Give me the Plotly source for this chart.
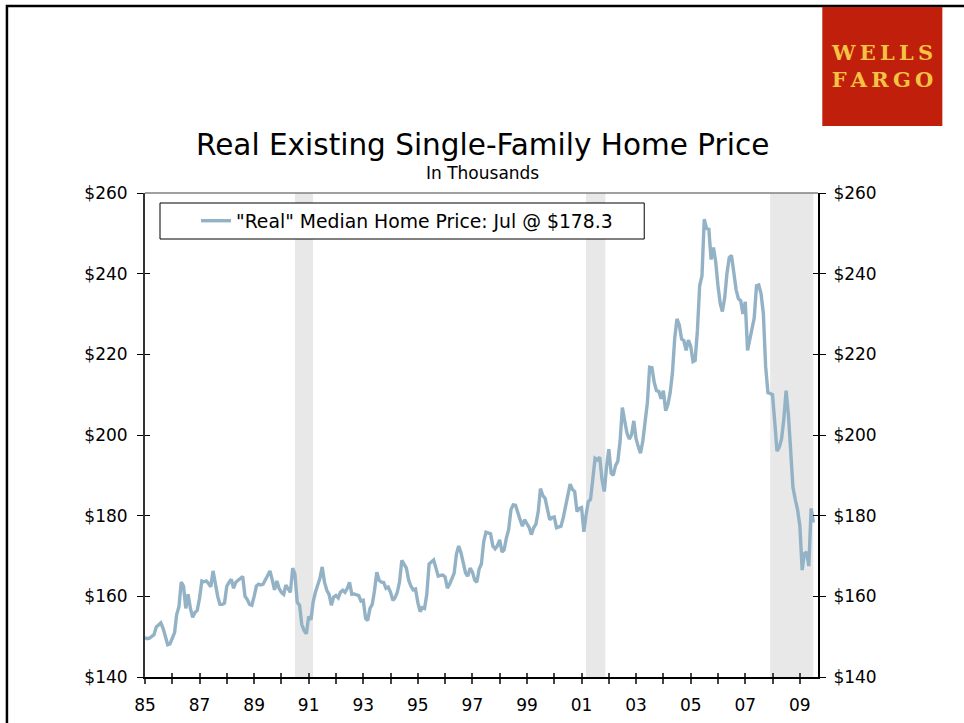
import pandas as pd
import plotly.graph_objects as go

# monthly "real" median existing single-family home price, $ thousands, Jan 1985 - Jul 2009
price_1985_1990 = [
    149.8, 149.5, 149.6, 150.0, 150.5, 152.4, 153.0, 153.4, 152.0, 149.8, 148.0, 148.2,
    149.5, 151.0, 155.5, 157.5, 163.5, 162.5, 157.0, 160.5, 157.0, 154.8, 156.0, 156.5,
    159.5, 163.8, 163.6, 163.8, 163.2, 162.4, 166.3, 163.0, 160.0, 158.0, 158.0, 158.3,
    162.5, 163.5, 164.2, 162.0, 163.5, 164.0, 164.5, 164.9, 160.0, 159.2, 158.0, 157.8,
    160.0, 162.6, 163.0, 162.8, 163.0, 164.0, 165.3, 166.3, 164.0, 161.6, 163.8, 162.0,
    161.0, 160.5, 162.8, 162.0, 161.0, 167.0, 165.5, 158.5, 157.8, 153.0, 151.5, 150.7,
]
price_1991_1996 = [
    155.0, 154.2, 158.5, 161.0, 163.0, 164.5, 167.3, 163.5, 161.5, 160.5, 157.8, 159.8,
    160.2, 159.6, 161.0, 161.5, 161.0, 162.0, 163.5, 160.5, 160.6, 160.5, 160.2, 158.8,
    159.0, 154.5, 154.0, 157.0, 158.0, 161.5, 166.0, 164.0, 163.5, 163.4, 162.0, 162.3,
    161.0, 159.0, 159.6, 161.0, 163.5, 168.9, 167.8, 167.0, 164.0, 162.5, 161.6, 161.8,
    158.5, 156.2, 157.2, 157.0, 160.5, 168.0, 168.5, 169.0, 167.0, 165.0, 165.2, 165.3,
    164.8, 162.0, 163.0, 164.5, 165.7, 170.5, 172.5, 170.8, 168.0, 165.8, 165.0, 167.0,
]
price_1997_2002 = [
    166.0, 164.0, 163.5, 166.8, 168.0, 173.5, 175.9, 175.6, 175.5, 172.5, 171.8, 172.5,
    174.0, 171.0, 171.5, 174.5, 176.5, 181.5, 182.7, 182.6, 180.5, 179.0, 177.4, 179.0,
    178.0, 177.0, 175.3, 177.0, 177.9, 181.0, 186.7, 185.0, 184.3, 182.0, 179.0, 179.5,
    179.7, 177.0, 177.2, 177.4, 179.5, 182.0, 184.5, 187.8, 186.5, 186.0, 181.0, 181.8,
    182.0, 176.0, 180.0, 183.5, 184.0, 189.0, 194.2, 193.8, 194.5, 189.0, 186.0, 192.0,
    196.5, 190.5, 190.0, 192.4, 193.5, 198.5, 206.8, 203.5, 200.5, 199.0, 200.0, 203.5,
]
price_2003_2009 = [
    199.0, 197.0, 195.5, 198.5, 203.0, 208.0, 216.8, 216.7, 213.0, 211.0, 210.8, 209.0,
    211.0, 206.0, 207.5, 210.5, 215.3, 224.0, 228.8, 227.3, 223.8, 223.4, 221.0, 223.5,
    222.0, 218.2, 218.5, 226.0, 237.0, 239.5, 253.5, 251.2, 251.0, 243.5, 246.5, 243.0,
    237.0, 232.5, 230.6, 234.0, 240.0, 244.0, 244.5, 240.0, 236.0, 233.8, 233.3, 230.0,
    233.0, 221.0, 223.5, 226.5, 229.0, 237.0, 237.2, 235.0, 230.0, 217.0, 210.5, 210.3,
    210.0, 203.0, 196.0, 197.0, 199.0, 204.0, 211.0, 205.0, 196.0, 187.0, 184.0, 181.5,
    177.5, 166.5, 170.5, 171.0, 167.5, 181.8, 178.3,
]
prices = price_1985_1990 + price_1991_1996 + price_1997_2002 + price_2003_2009
months = pd.date_range("1985-01-01", periods=len(prices), freq="MS")

# recessions (start, end)
recessions = [("1990-07-01", "1991-03-01"), ("2001-03-01", "2001-11-15"), ("2007-12-01", "2009-06-30")]

y_ticks = [140, 160, 180, 200, 220, 240, 260]
y_ticktext = ["$140", "$160", "$180", "$200", "$220", "$240", "$260"]
legend_name = '"Real" Median Home Price: Jul @ $178.3'

W, H = 964, 723
L, R, T, B = 145, 817.7, 193, 677


def px(x):
    return (x - L) / (R - L)


def py(y):
    return (B - y) / (B - T)


FONT = "DejaVu Sans, Verdana, sans-serif"
x_range = ["1985-01-01", "2009-09-01"]

fig = go.Figure()

fig.add_trace(go.Scatter(x=months, y=prices, mode="lines", name=legend_name,
                         line=dict(color="#93B2C6", width=3.4)))

shapes = []
for s, e in recessions:
    shapes.append(dict(type="rect", xref="x", yref="paper", x0=s, x1=e, y0=0, y1=1,
                       fillcolor="#E8E8E8", line_width=0, layer="below"))
# top border of plot area
shapes.append(dict(type="line", xref="paper", yref="paper", x0=0, x1=1, y0=1, y1=1,
                   line=dict(color="#808080", width=1.5)))
# legend box
shapes.append(dict(type="rect", xref="paper", yref="paper", x0=px(160), x1=px(644), y0=py(203), y1=py(239),
                   line=dict(color="black", width=1), fillcolor="white"))
# page frame
shapes.append(dict(type="rect", xref="paper", yref="paper", x0=px(7), x1=px(1000), y0=py(6), y1=py(800),
                   line=dict(color="black", width=2.5)))
# logo
shapes.append(dict(type="rect", xref="paper", yref="paper", x0=px(822), x1=px(942), y0=py(7), y1=py(126),
                   fillcolor="#BF1F0B", line_width=0))

ts = "\u2009"
annotations = [
    dict(text="Real Existing Single-Family Home Price", x=px(482), y=py(145), xref="paper", yref="paper",
         xanchor="center", yanchor="middle", showarrow=False, font=dict(family=FONT, size=29.5, color="black")),
    dict(text="In Thousands", x=px(482), y=py(173), xref="paper", yref="paper",
         xanchor="center", yanchor="middle", showarrow=False, font=dict(family=FONT, size=17, color="black")),
    dict(text="<b>" + ts.join("WELLS") + "<br>" + ts.join("FARGO") + "</b>", x=px(882), y=py(66),
         xref="paper", yref="paper", xanchor="center", yanchor="middle", showarrow=False,
         font=dict(family="DejaVu Serif, serif", size=21, color="#F5C343")),
]

tick_font = dict(family=FONT, size=17, color="black")
minor = dict(dtick="M12", ticklen=5, tickcolor="#444", tickwidth=1.5)

fig.update_layout(
    width=W, height=H,
    margin=dict(l=L, r=W - R, t=T, b=H - B, autoexpand=False),
    paper_bgcolor="white", plot_bgcolor="white",
    showlegend=True,
    legend=dict(x=px(196), y=py(221), xanchor="left", yanchor="middle", bgcolor="rgba(0,0,0,0)",
                borderwidth=0, font=dict(family=FONT, size=18.8, color="black")),
    shapes=shapes,
    annotations=annotations,
    xaxis=dict(type="date", range=x_range, tick0="1985-01-01", dtick="M24", tickformat="%y",
               ticks="outside", ticklen=5, tickwidth=1.5, tickcolor="#444", minor=dict(minor, ticks="outside"),
               showline=True, linecolor="black", linewidth=2, showgrid=False, zeroline=False,
               tickfont=tick_font, ticklabelstandoff=7, automargin=False),
    xaxis2=dict(type="date", matches="x", overlaying="x", anchor="y", tick0="1985-01-01", dtick="M24",
                ticks="inside", ticklen=4, tickwidth=1.5, tickcolor="#444", minor=dict(minor, ticks="inside", ticklen=4),
                showticklabels=False, showline=False, showgrid=False, zeroline=False, automargin=False),
    yaxis=dict(range=[140, 260], tickvals=y_ticks, ticktext=y_ticktext, ticks="outside", ticklen=6,
               tickcolor="black", tickwidth=1.2, showline=True, linecolor="#333", linewidth=2,
               showgrid=False, zeroline=False, tickfont=tick_font, ticklabelstandoff=6, automargin=False),
    yaxis2=dict(matches="y", overlaying="y", side="right", anchor="x", tickvals=y_ticks, ticktext=y_ticktext,
                ticks="outside", ticklen=6, tickcolor="black", tickwidth=1.2, showline=True, linecolor="black",
                linewidth=2, showgrid=False, zeroline=False, tickfont=tick_font, ticklabelstandoff=4,
                automargin=False),
    yaxis3=dict(matches="y", overlaying="y", side="left", anchor="x", tickvals=y_ticks, ticks="inside",
                ticklen=5, tickcolor="black", tickwidth=1.2, showticklabels=False, showline=False,
                showgrid=False, zeroline=False, automargin=False),
    yaxis4=dict(matches="y", overlaying="y", side="right", anchor="x", tickvals=y_ticks, ticks="inside",
                ticklen=5, tickcolor="black", tickwidth=1.2, showticklabels=False, showline=False,
                showgrid=False, zeroline=False, automargin=False),
)

# empty helper traces so the extra tick axes get drawn
for xa, ya in [("x2", "y"), ("x", "y2"), ("x", "y3"), ("x", "y4")]:
    fig.add_trace(go.Scatter(x=[months[0]], y=[None], xaxis=xa, yaxis=ya, showlegend=False, hoverinfo="skip"))

fig.write_html("out.html", config={"displayModeBar": False},
               post_script="document.body.style.margin='0px';")
